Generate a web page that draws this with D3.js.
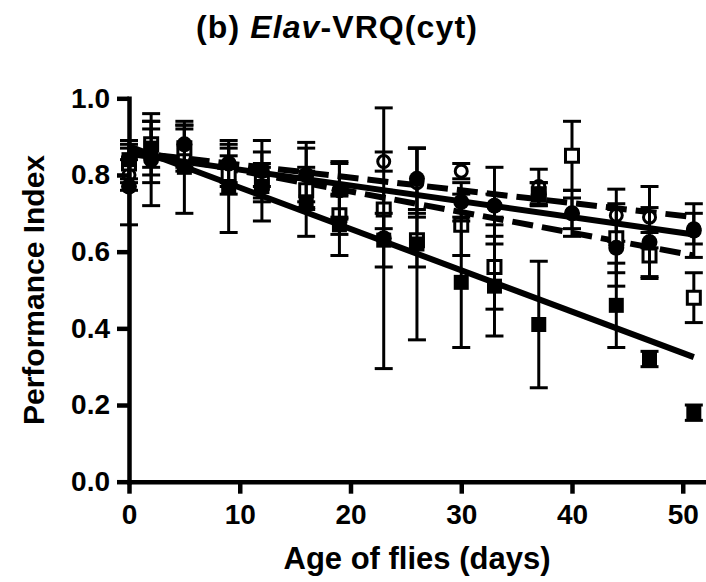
<!DOCTYPE html>
<html>
<head>
<meta charset="utf-8">
<script src="https://cdn.jsdelivr.net/npm/d3@7"></script>
<style>
  body { margin: 0; background: #fff; }
  text { font-family: "Liberation Sans", Arial, sans-serif; font-weight: bold; }
</style>
</head>
<body>
<div id="chart"></div>
<script>
// ages of flies (days)
const days = [0, 2, 5, 9, 12, 16, 19, 23, 26, 30, 33, 37, 40, 44, 47, 51];

// filled circles, solid fit
const fcMean = [0.77, 0.84, 0.88, 0.83, 0.81, 0.80, 0.76, 0.635, 0.79, 0.73, 0.72, 0.75, 0.70, 0.61, 0.625, 0.655];
const fcSem  = [0.10, 0.12, 0.05, 0.05, 0.08, 0.085, 0.07, 0.34, 0.08, 0.05, 0.10, 0.03, 0.06, 0.10, 0.09, 0.07];

// filled squares, solid fit
const fsMean = [0.84, 0.87, 0.82, 0.77, 0.77, 0.73, 0.67, 0.63, 0.62, 0.52, 0.51, 0.41, null, 0.46, 0.32, 0.18];
const fsSem  = [0.05, 0.07, 0.12, 0.12, 0.09, 0.09, 0.08, 0.07, 0.25, 0.17, 0.13, 0.165, null, 0.11, 0.02, 0.02];

// open circles, dashed fit
const ocMean = [0.80, 0.85, 0.87, 0.82, 0.80, 0.80, 0.76, 0.835, 0.78, 0.81, 0.72, 0.77, 0.70, 0.695, 0.69, 0.66];
const ocSem  = [0.04, 0.07, 0.06, 0.05, 0.03, 0.07, 0.075, 0.025, 0.09, 0.02, 0.03, 0.045, 0.04, 0.068, 0.08, 0.04];

// open squares, dashed fit
const osMean = [0.83, 0.88, 0.87, 0.80, 0.78, 0.76, 0.695, 0.71, 0.63, 0.67, 0.56, 0.75, 0.85, 0.635, 0.59, 0.48];
const osSem  = [0.05, 0.06, 0.05, 0.05, 0.04, 0.05, 0.05, 0.05, 0.07, 0.08, 0.11, 0.03, 0.09, 0.09, 0.06, 0.065];

// linear fits: value at day 0 and day 51
const fitDays = [0, 51];
const fcFit = [0.855, 0.645];
const fsFit = [0.875, 0.325];
const ocFit = [0.86, 0.69];
const osFit = [0.865, 0.59];

const yTicks = [0, 0.2, 0.4, 0.6, 0.8, 1.0];
const xTicks = [0, 10, 20, 30, 40, 50];

const width = 706, height = 582;
const svg = d3.select("#chart").append("svg")
    .attr("width", width).attr("height", height);

const x = d3.scaleLinear().domain([0, 52.1]).range([129, 706]);
const y = d3.scaleLinear().domain([0, 1]).range([481.7, 98.3]);

// fit lines
const fits = [
    { v: fsFit, dash: null },
    { v: fcFit, dash: null },
    { v: ocFit, dash: "21,9" },
    { v: osFit, dash: "21,9" }
];
const line = d3.line().x(d => x(d[0])).y(d => y(d[1]));
fits.forEach(f => {
    svg.append("path")
        .attr("d", line(fitDays.map((d, i) => [d, f.v[i]])))
        .attr("fill", "none")
        .attr("stroke", "#000")
        .attr("stroke-width", 6)
        .attr("stroke-dasharray", f.dash);
});

// series, in drawing order
const series = [
    { mean: ocMean, sem: ocSem, type: d3.symbolCircle, size: 113, open: true },
    { mean: osMean, sem: osSem, type: d3.symbolSquare, size: 169, open: true },
    { mean: fcMean, sem: fcSem, type: d3.symbolCircle, size: 201, open: false },
    { mean: fsMean, sem: fsSem, type: d3.symbolSquare, size: 225, open: false }
];

series.forEach(s => {
    const pts = days.map((d, i) => ({ d: d, m: s.mean[i], e: s.sem[i] }))
        .filter(p => p.m !== null);
    const g = svg.append("g");
    const eb = g.selectAll(".eb").data(pts).enter().append("g")
        .attr("stroke", "#000").attr("stroke-width", 3);
    eb.append("line")
        .attr("x1", p => x(p.d)).attr("x2", p => x(p.d))
        .attr("y1", p => y(p.m + p.e)).attr("y2", p => y(p.m - p.e));
    eb.append("line")
        .attr("x1", p => x(p.d) - 9).attr("x2", p => x(p.d) + 9)
        .attr("y1", p => y(p.m + p.e)).attr("y2", p => y(p.m + p.e));
    eb.append("line")
        .attr("x1", p => x(p.d) - 9).attr("x2", p => x(p.d) + 9)
        .attr("y1", p => y(p.m - p.e)).attr("y2", p => y(p.m - p.e));
    g.selectAll(".pt").data(pts).enter().append("path")
        .attr("d", d3.symbol().type(s.type).size(s.size))
        .attr("transform", p => "translate(" + x(p.d) + "," + y(p.m) + ")")
        .attr("fill", s.open ? "#fff" : "#000")
        .attr("stroke", "#000")
        .attr("stroke-width", s.open ? 3 : 0);
});

// axes
const yAxis = svg.append("g")
    .attr("transform", "translate(" + x(0) + ",0)")
    .call(d3.axisLeft(y).tickValues(yTicks).tickFormat(d3.format(".1f"))
        .tickSize(12).tickSizeOuter(0).tickPadding(7));
const xAxis = svg.append("g")
    .attr("transform", "translate(0," + y(0) + ")")
    .call(d3.axisBottom(x).tickValues(xTicks).tickFormat(d3.format("d"))
        .tickSize(12).tickSizeOuter(0).tickPadding(10));

[yAxis, xAxis].forEach(a => {
    a.select(".domain").attr("stroke-width", 4.5).attr("stroke-linecap", "square");
    a.selectAll(".tick line").attr("stroke-width", 4.5);
    a.selectAll(".tick text")
        .attr("font-size", 28)
        .attr("font-family", "'Liberation Sans', Arial, sans-serif")
        .attr("font-weight", "bold")
        .attr("fill", "#000");
});

// title
const title = svg.append("text")
    .attr("x", 337).attr("y", 38)
    .attr("text-anchor", "middle")
    .attr("font-size", 32)
    .attr("letter-spacing", 1.1);
title.append("tspan").text("(b) ");
title.append("tspan").attr("font-style", "italic").text("Elav");
title.append("tspan").text("-VRQ(cyt)");

// axis titles
svg.append("text")
    .attr("x", 417).attr("y", 569)
    .attr("text-anchor", "middle")
    .attr("font-size", 31)
    .text("Age of flies (days)");

svg.append("text")
    .attr("transform", "translate(44,290) rotate(-90)")
    .attr("text-anchor", "middle")
    .attr("font-size", 30)
    .text("Performance Index");
</script>
</body>
</html>
